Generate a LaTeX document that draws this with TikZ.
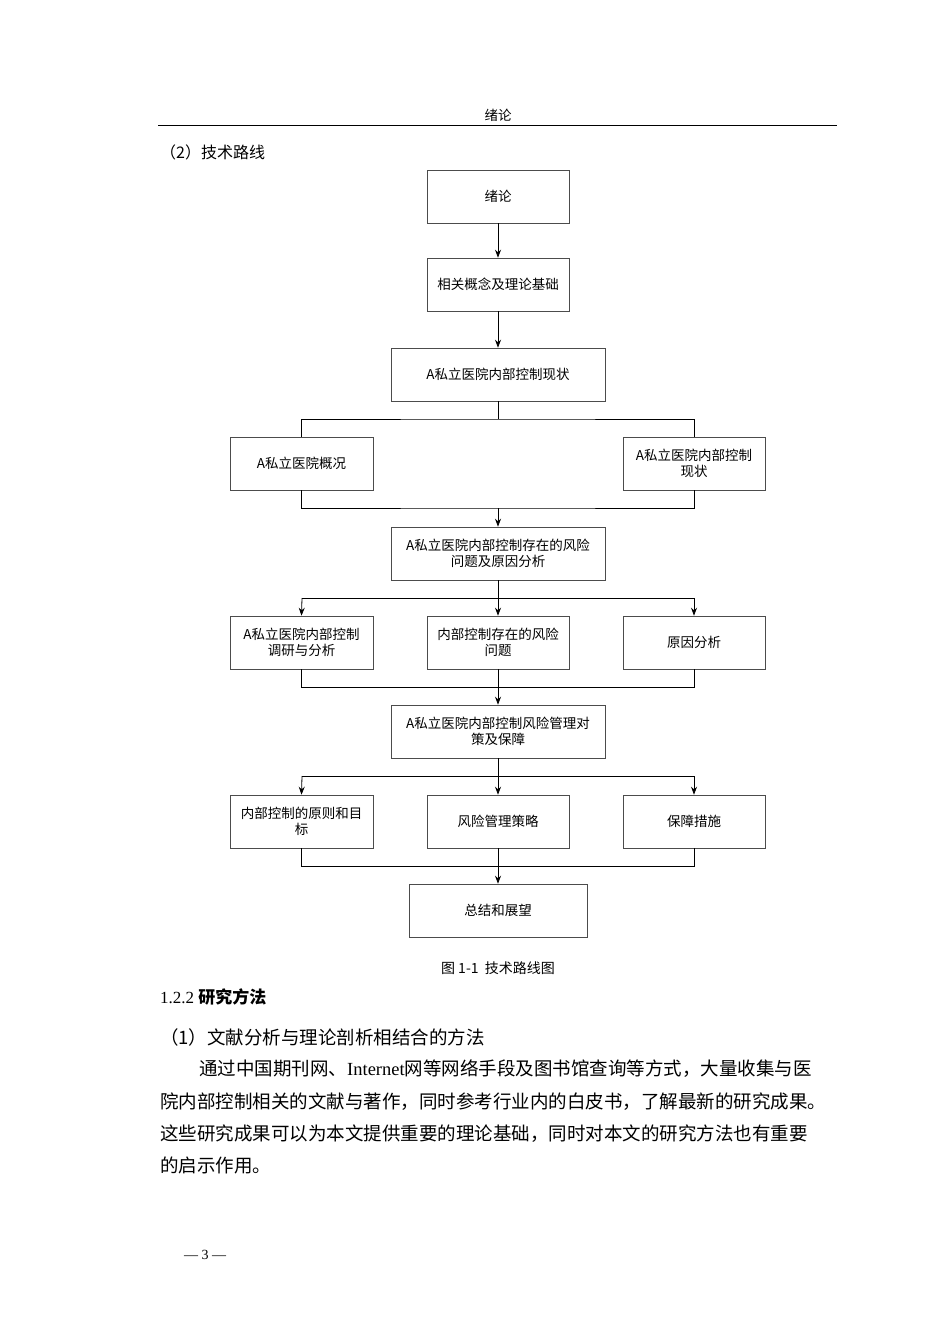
\documentclass[tikz,border=0pt]{standalone}
\usepackage{fontspec}
\setmainfont{Liberation Serif}
\newfontfamily\cjk{Noto Sans CJK SC}
\usetikzlibrary{arrows.meta}
\begin{document}
\begin{tikzpicture}[x=1pt,y=-1pt,
  box/.style={draw=black!70,line width=0.6pt,minimum height=53pt,align=center,inner sep=2pt,font=\cjk\fontsize{13.5}{16}\selectfont},
  ln/.style={line width=0.8pt},
  arr/.style={ln,-{Stealth[length=8pt,width=6pt]}},
  txt/.style={inner sep=0pt,font=\cjk\fontsize{18.5}{22}\selectfont}]
\useasboundingbox[fill=white] (0,0) rectangle (950,1344);
\node[font=\cjk\fontsize{13.5}{16}\selectfont] (hd) at (498,115) {绪论};
\draw[line width=1pt] (158,125) -- (837,125);
\node[txt,anchor=west,font=\cjk\fontsize{16}{18}\selectfont] (t2) at (160,152) {（2）技术路线};

\node[box,minimum width=142pt] (b1) at (498,196.5) {绪论};
\node[box,minimum width=142pt] (b2) at (498,284.5) {相关概念及理论基础};
\node[box,minimum width=214pt] (b3) at (498,374.5) {A私立医院内部控制现状};
\node[box,minimum width=143pt] (b4a) at (301.5,463.5) {A私立医院概况};
\node[box,minimum width=142pt] (b4b) at (694,463.5) {A私立医院内部控制\\现状};
\node[box,minimum width=214pt] (b5) at (498,553.5) {A私立医院内部控制存在的风险\\问题及原因分析};
\node[box,minimum width=143pt] (b6a) at (301.5,642.5) {A私立医院内部控制\\调研与分析};
\node[box,minimum width=142pt] (b6b) at (498,642.5) {内部控制存在的风险\\问题};
\node[box,minimum width=142pt] (b6c) at (694,642.5) {原因分析};
\node[box,minimum width=214pt] (b7) at (498,731.5) {A私立医院内部控制风险管理对\\策及保障};
\node[box,minimum width=143pt] (b8a) at (301.5,821.5) {内部控制的原则和目\\标};
\node[box,minimum width=142pt] (b8b) at (498,821.5) {风险管理策略};
\node[box,minimum width=142pt] (b8c) at (694,821.5) {保障措施};
\node[box,minimum width=178pt] (b9) at (498,910.5) {总结和展望};

\draw[arr] (b1) -- (b2);
\draw[arr] (b2) -- (b3);
\draw[ln] (b3.south) -- (498,419);
\draw[ln] (b4a.north) |- (498,419) -| (b4b.north);
\draw[ln] (b4a.south) |- (498,508) -| (b4b.south);
\draw[arr] (498,508) -- (b5.north);
\draw[ln] (b5.south) -- (498,598);
\draw[ln] (302,598) -- (694,598);
\draw[arr] (302,598) -- (b6a.north);
\draw[arr] (498,598) -- (b6b.north);
\draw[arr] (694,598) -- (b6c.north);
\draw[ln] (b6a.south) |- (b6c.south |- 0,687) -- (b6c.south);
\draw[ln] (b6b.south) -- (498,687);
\draw[arr] (498,687) -- (b7.north);
\draw[ln] (b7.south) -- (498,776);
\draw[ln] (302,776) -- (694,776);
\draw[arr] (302,776) -- (b8a.north);
\draw[arr] (498,776) -- (b8b.north);
\draw[arr] (694,776) -- (b8c.north);
\draw[ln] (b8a.south) |- (b8c.south |- 0,866) -- (b8c.south);
\draw[ln] (b8b.south) -- (498,866);
\draw[arr] (498,866) -- (b9.north);

\node[font=\cjk\fontsize{14}{16}\selectfont] (cap) at (498,968) {图 1-1 \ 技术路线图};
\node[txt,anchor=west,font=\fontsize{17}{20}\selectfont] (h3) at (160,997) {1.2.2 {\cjk\bfseries 研究方法}};
\node[txt,anchor=west] (p0) at (160,1037) {（1）文献分析与理论剖析相结合的方法};
\node[txt,anchor=west] (p1) at (199,1069) {通过中国期刊网、{\rmfamily Internet}网等网络手段及图书馆查询等方式，大量收集与医};
\node[txt,anchor=west] (p2) at (160,1102) {院内部控制相关的文献与著作，同时参考行业内的白皮书，了解最新的研究成果。};
\node[txt,anchor=west] (p3) at (160,1134) {这些研究成果可以为本文提供重要的理论基础，同时对本文的研究方法也有重要};
\node[txt,anchor=west] (p4) at (160,1165) {的启示作用。};
\node[font=\fontsize{14}{16}\selectfont] (pg) at (205,1255) {— 3 —};
\end{tikzpicture}
\end{document}
